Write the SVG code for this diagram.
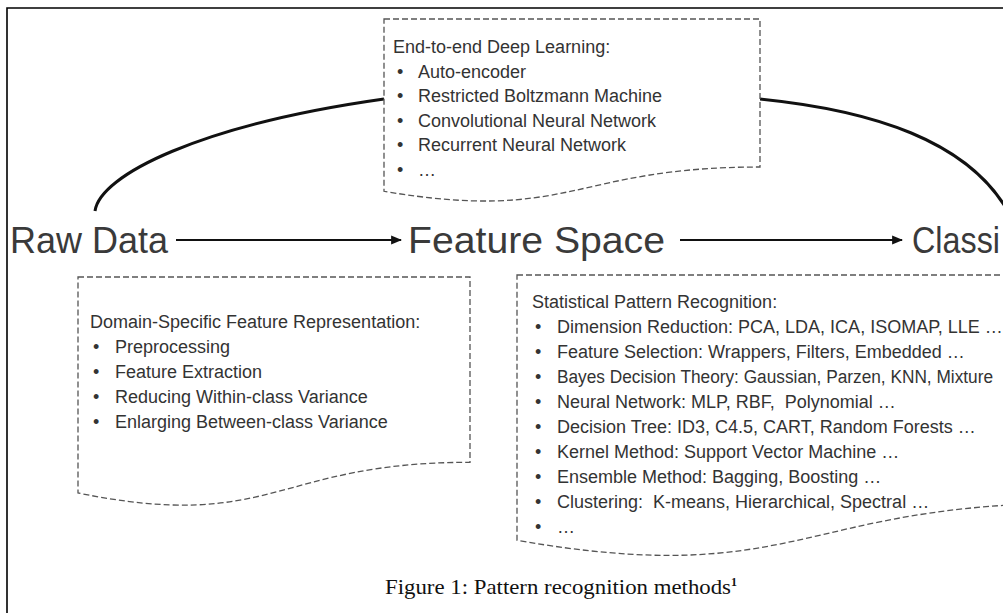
<svg xmlns="http://www.w3.org/2000/svg" width="1003" height="613" viewBox="0 0 1003 613">
<defs>
<style>
.frame{fill:none;stroke:#000;stroke-width:1.6}
.box{fill:#fff;stroke:#555;stroke-width:1.3;stroke-dasharray:6 3}
.curve{fill:none;stroke:#111;stroke-width:3}
.arrow{fill:none;stroke:#111;stroke-width:2.2}
.big{font-family:"Liberation Sans",Arial,sans-serif;font-size:37px;fill:#3a3a3a}
.t{font-family:"Liberation Sans",Arial,sans-serif;font-size:18px;fill:#333}
.cap{font-family:"Liberation Serif","Times New Roman",serif;font-size:21px;fill:#111}
</style>
<marker id="ah" viewBox="0 0 10 10" refX="9" refY="5" markerWidth="5" markerHeight="5" orient="auto" markerUnits="strokeWidth">
<path d="M0,1 L10,5 L0,9 Z" fill="#111"/>
</marker>
</defs>
<rect width="1003" height="613" fill="#fff"/>
<path class="frame" d="M7,613 L7,8 L1003,8"/>

<g id="connectors">
<path class="curve" d="M95,211 C100,175 200,125 384,99"/>
<path class="curve" d="M760,99 C870,110 970,140 1010,215"/>
<line class="arrow" x1="176" y1="240" x2="401" y2="240" marker-end="url(#ah)"/>
<line class="arrow" x1="680" y1="240" x2="902" y2="240" marker-end="url(#ah)"/>
</g>

<g id="raw-data"><text class="big" x="10" y="253" textLength="158" lengthAdjust="spacingAndGlyphs">Raw Data</text></g>
<g id="feature-space"><text class="big" x="408" y="253" textLength="257" lengthAdjust="spacingAndGlyphs">Feature Space</text></g>
<g id="classification"><text class="big" x="912" y="253" textLength="88" lengthAdjust="spacingAndGlyphs">Classi</text></g>

<g id="deep-learning">
<path class="box" d="M384,19 L760,19 L760,167 C572,167 572,223 384,191.3 Z"/>
<text class="t" x="393" y="53">End-to-end Deep Learning:</text>
<text class="t" x="397" y="77.5">•</text><text class="t" x="418" y="77.5">Auto-encoder</text>
<text class="t" x="397" y="102">•</text><text class="t" x="418" y="102">Restricted Boltzmann Machine</text>
<text class="t" x="397" y="126.5">•</text><text class="t" x="418" y="126.5">Convolutional Neural Network</text>
<text class="t" x="397" y="151">•</text><text class="t" x="418" y="151">Recurrent Neural Network</text>
<text class="t" x="397" y="175.5">•</text><text class="t" x="418" y="175.5">…</text>
</g>

<g id="domain-specific">
<path class="box" d="M78,277 L470,277 L470,462.3 C274,462.3 274,532.7 78,493 Z"/>
<text class="t" x="90" y="328">Domain-Specific Feature Representation:</text>
<text class="t" x="93" y="353">•</text><text class="t" x="115" y="353">Preprocessing</text>
<text class="t" x="93" y="378">•</text><text class="t" x="115" y="378">Feature Extraction</text>
<text class="t" x="93" y="403">•</text><text class="t" x="115" y="403">Reducing Within-class Variance</text>
<text class="t" x="93" y="428">•</text><text class="t" x="115" y="428">Enlarging Between-class Variance</text>
</g>

<g id="statistical">
<path class="box" d="M517,275 L1080,275 L1080,503 C798.5,503 798.5,589.4 517,540.3 Z"/>
<text class="t" x="532" y="308">Statistical Pattern Recognition:</text>
<text class="t" x="535" y="333">•</text><text class="t" x="557" y="333">Dimension Reduction: PCA, LDA, ICA, ISOMAP, LLE …</text>
<text class="t" x="535" y="358">•</text><text class="t" x="557" y="358">Feature Selection: Wrappers, Filters, Embedded …</text>
<text class="t" x="535" y="383">•</text><text class="t" x="557" y="383" textLength="436" lengthAdjust="spacingAndGlyphs">Bayes Decision Theory: Gaussian, Parzen, KNN, Mixture</text>
<text class="t" x="535" y="408">•</text><text class="t" x="557" y="408" xml:space="preserve">Neural Network: MLP, RBF,  Polynomial …</text>
<text class="t" x="535" y="433">•</text><text class="t" x="557" y="433">Decision Tree: ID3, C4.5, CART, Random Forests …</text>
<text class="t" x="535" y="458">•</text><text class="t" x="557" y="458">Kernel Method: Support Vector Machine …</text>
<text class="t" x="535" y="483">•</text><text class="t" x="557" y="483">Ensemble Method: Bagging, Boosting …</text>
<text class="t" x="535" y="508">•</text><text class="t" x="557" y="508" xml:space="preserve">Clustering:  K-means, Hierarchical, Spectral …</text>
<text class="t" x="535" y="533">•</text><text class="t" x="557" y="533">…</text>
</g>

<g id="caption">
<text class="cap" x="385" y="594"><tspan textLength="346" lengthAdjust="spacingAndGlyphs">Figure 1: Pattern recognition methods</tspan><tspan font-size="12" font-weight="bold" dy="-8">1</tspan></text>
</g>
</svg>
